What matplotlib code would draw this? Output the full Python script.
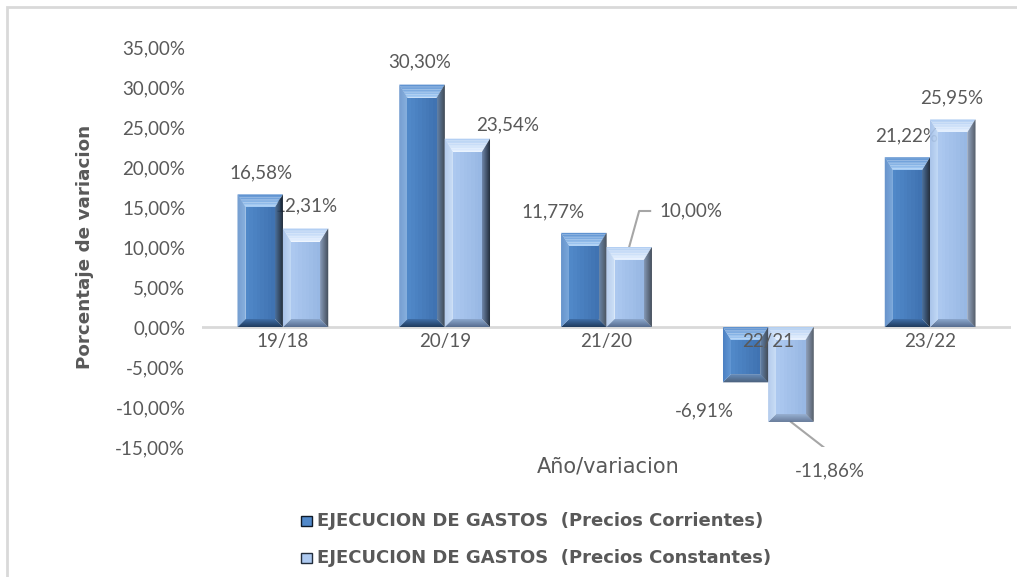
"""Variacion anual de la ejecucion de gastos, precios corrientes y constantes."""
import matplotlib
matplotlib.use("Agg")
import numpy as np
import matplotlib.pyplot as plt
from matplotlib.colors import to_rgb
from matplotlib.patches import Polygon, Rectangle
from matplotlib.lines import Line2D

plt.rcParams['font.family'] = ['Lato', 'DejaVu Sans']

categories = ['19/18', '20/19', '21/20', '22/21', '23/22']
corrientes = [16.58, 30.30, 11.77, -6.91, 21.22]
constantes = [12.31, 23.54, 10.00, -11.86, 25.95]
yticks = [-15, -10, -5, 0, 5, 10, 15, 20, 25, 30, 35]

serie_corr = 'EJECUCION DE GASTOS  (Precios Corrientes)'
serie_const = 'EJECUCION DE GASTOS  (Precios Constantes)'

GRAY = '#595959'
WIDE = ['DejaVu Sans']
W, H, DPI = 1017, 577, 100

# bevel colours as (outer, inner) pairs: face (left, right), top, left, right, bottom
pal_corr = dict(face=('#5189ca', '#3f72b0'), top=('#5a8fcf', '#a9cff6'),
                left=('#4a80c2', '#6297d4'), right=('#0f1a28', '#3a6394'),
                bottom=('#1f3a5c', '#3f6ea8'))
pal_const = dict(face=('#adc9f0', '#97b7e3'), top=('#b0cdf2', '#e6f1ff'),
                 left=('#a0bee8', '#bcd5f4'), right=('#222d3c', '#6f87ab'),
                 bottom=('#566c8e', '#8ba7cd'))


def fmt(v):
    return f"{v:.2f}%".replace('.', ',')


def mix(c0, c1, t):
    a, b = np.array(to_rgb(c0)), np.array(to_rgb(c1))
    return tuple(a + (b - a) * t)


fig = plt.figure(figsize=(W / DPI, H / DPI), dpi=DPI)
ax = fig.add_axes([202 / W, 1 - 447 / H, 809 / W, 400 / H])
ax.set_xlim(-0.5, 4.5)
ax.set_ylim(-15, 35)

# pixel size of one data unit
px_x = 809 / 5.0
px_y = 400 / 50.0


def bevel_bar(xc, width, value, pal, bs=8, bt=13, bb=8, n=8):
    """Bar with an angle bevel; bevel sizes given in pixels."""
    x0, x1 = xc - width / 2, xc + width / 2
    ytop, ybot = max(0, value), min(0, value)
    dx = bs / px_x
    dyt = min(bt / px_y, (ytop - ybot) / 2.5)
    dyb = min(bb / px_y, (ytop - ybot) / 2.5)

    def ring(t):
        return x0 + dx * t, x1 - dx * t, ytop - dyt * t, ybot + dyb * t

    kw = dict(closed=True, linewidth=0, zorder=3, antialiased=True)
    for k in range(n):
        t0, t1 = k / n, (k + 1) / n
        tc = (k + 0.5) / n
        l0, r0, u0, d0 = ring(t0)
        l1, r1, u1, d1 = ring(t1)
        sides = {
            'top': [(l0, u0), (r0, u0), (r1, u1), (l1, u1)],
            'bottom': [(l0, d0), (r0, d0), (r1, d1), (l1, d1)],
            'left': [(l0, u0), (l1, u1), (l1, d1), (l0, d0)],
            'right': [(r0, u0), (r1, u1), (r1, d1), (r0, d0)],
        }
        for side, pts in sides.items():
            ax.add_patch(Polygon(pts, facecolor=mix(*pal[side], tc), **kw))
    # inner face, shaded from left to right
    l, r, u, d = ring(1)
    m = 8
    for k in range(m):
        xa = l + (r - l) * k / m
        xb = l + (r - l) * (k + 1) / m
        ax.add_patch(Polygon([(xa, d), (xb, d), (xb, u), (xa, u)],
                             facecolor=mix(*pal['face'], (k + 0.5) / m), **kw))


bar_w = 0.28
for i, (vc, vk) in enumerate(zip(corrientes, constantes)):
    bevel_bar(i - bar_w / 2, bar_w, vc, pal_corr)
    bevel_bar(i + bar_w / 2, bar_w, vk, pal_const)

ax.axhline(0, color='#d9d9d9', lw=2, zorder=2)

# data labels, offsets in pixels from the bar end
off_corr = [(1, 21), (-2, 23), (-31, 21), (-41, -29), (-1, 21)]
off_const = [(0, 23), (40, 14), None, (39, -49), (-1, 22)]

for i, v in enumerate(corrientes):
    dx, dy = off_corr[i]
    ax.annotate(fmt(v), (i - bar_w / 2, v), xytext=(dx, dy), textcoords='offset pixels',
                ha='center', va='center', fontsize=13.5, color=GRAY, zorder=1)

for i, v in enumerate(constantes):
    xc = i + bar_w / 2
    if off_const[i] is None:
        # leader line bending up to the right
        xs = [xc, xc + 10 / px_x, xc + 21 / px_x]
        ys = [v, v + 36 / px_y, v + 36 / px_y]
        ax.add_line(Line2D(xs, ys, color='#a6a6a6', lw=1.5, zorder=1))
        ax.annotate(fmt(v), (xc, v), xytext=(30, 36), textcoords='offset pixels',
                    ha='left', va='center', fontsize=13.5, color=GRAY, zorder=1)
        continue
    dx, dy = off_const[i]
    if v < -10:
        ax.add_line(Line2D([xc, xc + 40 / px_x], [v, v - 31 / px_y],
                           color='#a6a6a6', lw=1.5, zorder=1))
    ax.annotate(fmt(v), (xc, v), xytext=(dx, dy), textcoords='offset pixels',
                ha='center', va='center', fontsize=13.5, color=GRAY, zorder=1)

# category names sit on the zero line
for i, c in enumerate(categories):
    ax.annotate(c, (i, 0), xytext=(0, -14), textcoords='offset pixels',
                ha='center', va='center', fontsize=13.5, color=GRAY, zorder=6)

ax.set_yticks(yticks)
ax.set_yticklabels([fmt(t) for t in yticks])
ax.tick_params(axis='y', length=0, pad=12, labelsize=13.5, labelcolor=GRAY)
ax.set_xticks([])
for s in ax.spines.values():
    s.set_visible(False)

fig.text(85 / W, 1 - 247 / H, 'Porcentaje de variacion', rotation=90, ha='center',
         va='center', fontsize=13.2, fontweight='bold', color=GRAY, family=WIDE)
fig.text(608 / W, 1 - 467 / H, 'Año/variacion', ha='center', va='center',
         fontsize=15, color=GRAY, family=WIDE)

# legend drawn by hand, one entry per row
for row_y, name, pal in [(521, serie_corr, pal_corr), (558, serie_const, pal_const)]:
    fig.patches.append(Rectangle((301 / W, 1 - (row_y + 5) / H), 11 / W, 10 / H,
                                 transform=fig.transFigure, facecolor=pal['face'][0],
                                 edgecolor=pal['right'][0], lw=1))
    fig.text(317 / W, 1 - row_y / H, name, ha='left', va='center', fontsize=13,
             fontweight='bold', color=GRAY, family=WIDE)

# thin frame round the chart area
fig.patches.append(Rectangle((7 / W, -0.1), 1.2, 1.1 - 7 / H, transform=fig.transFigure,
                             fill=False, edgecolor='#d9d9d9', lw=2))

fig.savefig('out.png', dpi=DPI)
